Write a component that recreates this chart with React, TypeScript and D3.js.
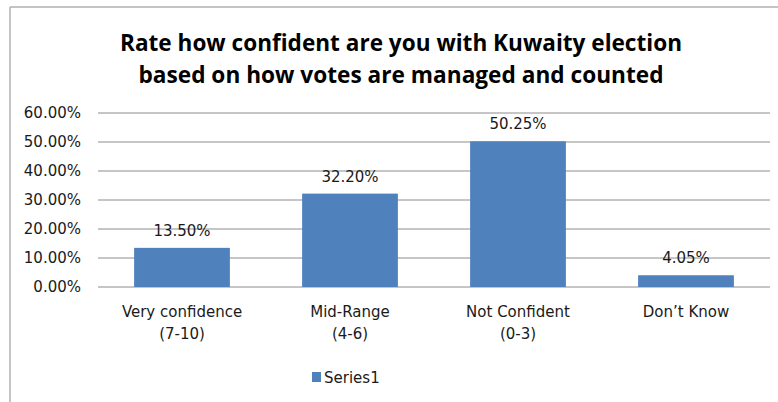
import React from "react";
import * as d3 from "d3";

const titleLines = [
  "Rate how confident are you with Kuwaity election",
  "based on how votes are managed and counted",
];
const categoryLine1 = ["Very confidence", "Mid-Range", "Not Confident", "Don\u2019t Know"];
const categoryLine2 = ["(7-10)", "(4-6)", "(0-3)", ""];
const values = [13.5, 32.2, 50.25, 4.05];
const yTicks = [0, 10, 20, 30, 40, 50, 60];
const seriesName = "Series1";

const W = 778;
const H = 402;
const plot = { left: 98, right: 770, top: 113, bottom: 287 };
const BAR = "#4f81bd";
const GRID = "#8c8c8c";
const FONT = "'DejaVu Sans', sans-serif";

export default function App() {
  const x = d3
    .scaleBand<string>()
    .domain(categoryLine1)
    .range([plot.left, plot.right])
    .paddingInner(0.43)
    .paddingOuter(0.215);
  const y = d3.scaleLinear().domain([0, 60]).range([plot.bottom, plot.top]);
  const fmt = (v: number) => v.toFixed(2) + "%";

  return (
    <svg
      width={W}
      height={H}
      style={{ position: "absolute", left: 0, top: 0, background: "#fff" }}
    >
      <rect x={0} y={0} width={W} height={H} fill="#fff" />
      {/* chart border (top and left visible) */}
      <line x1={10} y1={7} x2={W} y2={7} stroke="#b0b0b0" strokeWidth={1.5} />
      <line x1={10} y1={7} x2={10} y2={H} stroke="#b0b0b0" strokeWidth={1.5} />

      {/* title */}
      {titleLines.map((t, i) => (
        <text
          key={i}
          x={401}
          y={51 + i * 32}
          textAnchor="middle"
          fontFamily="'Open Sans', sans-serif"
          fontWeight={700}
          fontSize={23}
          fill="#000"
          textLength={i === 0 ? 562 : 525}
          lengthAdjust="spacingAndGlyphs"
        >
          {t}
        </text>
      ))}

      {/* gridlines and y labels */}
      {yTicks.map((t) => (
        <g key={t}>
          <line
            x1={plot.left}
            x2={plot.right}
            y1={y(t)}
            y2={y(t)}
            stroke={GRID}
            strokeWidth={1}
          />
          <text
            x={81}
            y={y(t) + 5}
            textAnchor="end"
            fontFamily={FONT}
            fontSize={15}
            fill="#1a1a1a"
          >
            {fmt(t)}
          </text>
        </g>
      ))}

      {/* bars */}
      {categoryLine1.map((c, i) => (
        <g key={c}>
          <rect
            x={x(c)!}
            y={y(values[i])}
            width={x.bandwidth()}
            height={y(0) - y(values[i])}
            fill={BAR}
          />
          <text
            x={x(c)! + x.bandwidth() / 2}
            y={y(values[i]) - 12}
            textAnchor="middle"
            fontFamily={FONT}
            fontSize={15}
            fill="#1a1a1a"
          >
            {fmt(values[i])}
          </text>
          <text
            x={x(c)! + x.bandwidth() / 2}
            y={317}
            textAnchor="middle"
            fontFamily={FONT}
            fontSize={15}
            fill="#1a1a1a"
          >
            {c}
          </text>
          {categoryLine2[i] && (
            <text
              x={x(c)! + x.bandwidth() / 2}
              y={339}
              textAnchor="middle"
              fontFamily={FONT}
              fontSize={15}
              fill="#1a1a1a"
            >
              {categoryLine2[i]}
            </text>
          )}
        </g>
      ))}

      {/* legend */}
      <rect x={312} y={372} width={9} height={10} fill={BAR} />
      <text x={324} y={383} fontFamily={FONT} fontSize={15} fill="#1a1a1a">
        {seriesName}
      </text>
    </svg>
  );
}
